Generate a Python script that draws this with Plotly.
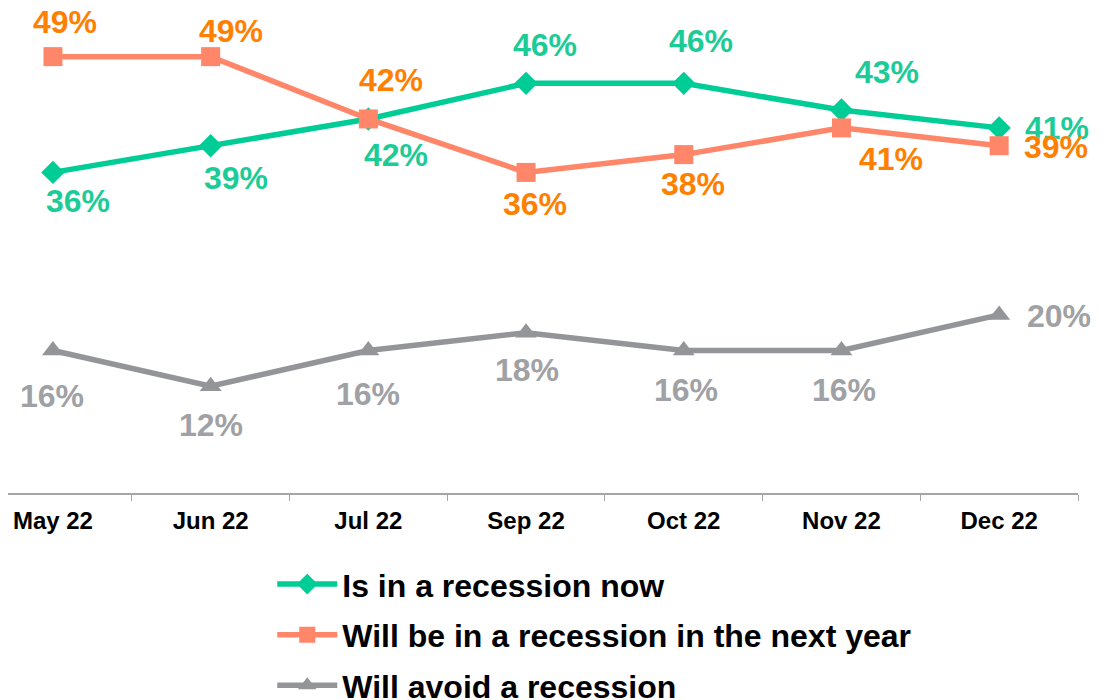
import plotly.graph_objects as go

months = ["May 22", "Jun 22", "Jul 22", "Sep 22", "Oct 22", "Nov 22", "Dec 22"]

in_recession_now = [36, 39, 42, 46, 46, 43, 41]
recession_next_year = [49, 49, 42, 36, 38, 41, 39]
avoid_recession = [16, 12, 16, 18, 16, 16, 20]

series_names = [
    "Is in a recession now",
    "Will be in a recession in the next year",
    "Will avoid a recession",
]

FONT = "Arial, Liberation Sans, sans-serif"

# line colour, marker symbol, label colour, per-point label offsets (dx, dy) in px
styles = [
    dict(line="#00CC96", symbol="diamond", size=18, text="#1DCB97",
         dx=[25, 25, 28, 19, 17, 46, 58], dy=[-29, -32, -36, 38, 42, 38, 0]),
    dict(line="#FF8669", symbol="square", size=19, text="#FF8000",
         dx=[12, 20, 23, 9, 9, 50, 57], dy=[35, 26, 39, -32, -29, -31, -1]),
    dict(line="#939598", symbol="triangle-up", size=19, text="#A0A1A4",
         dx=[-1, 0, 0, 1, 2, 3, 60], dy=[-45, -39, -43, -37, -39, -39, -1]),
]

fig = go.Figure()
annotations = []
for name, values, st in zip(series_names,
                            [in_recession_now, recession_next_year, avoid_recession],
                            styles):
    fig.add_trace(go.Scatter(
        x=months, y=values, name=name, mode="lines+markers",
        line=dict(color=st["line"], width=5.5),
        marker=dict(symbol=st["symbol"], size=st["size"], color=st["line"]),
        cliponaxis=False, legendgroup=name,
    ))
    for m, v, dx, dy in zip(months, values, st["dx"], st["dy"]):
        annotations.append(dict(
            x=m, y=v, text=f"{v}%", showarrow=False, xshift=dx, yshift=dy,
            font=dict(family=FONT, size=32, color=st["text"], weight="bold"),
        ))

# axis line continues a little past the left edge of the plot area
fig.add_shape(type="line", xref="paper", yref="paper", x0=-0.01, x1=0, y0=0, y1=0,
              line=dict(color="#A6A6A6", width=1.5))

fig.update_layout(
    width=1115, height=700,
    margin=dict(l=0, r=45, t=5, b=215, autoexpand=False),
    paper_bgcolor="white", plot_bgcolor="white",
    annotations=annotations,
    showlegend=True,
    legend=dict(
        orientation="v", xref="container", yref="container",
        x=0.237, y=0.216, xanchor="left", yanchor="top",
        font=dict(family=FONT, size=32, color="black", weight="bold"),
        itemwidth=60, tracegroupgap=6,
        bgcolor="rgba(0,0,0,0)",
    ),
    xaxis=dict(
        type="category", range=[-0.285, 6.5],
        showline=True, linecolor="#A6A6A6", linewidth=1.5,
        ticks="outside", tickson="boundaries", ticklen=6, tickcolor="#A6A6A6",
        tickfont=dict(family=FONT, size=24, color="black", weight="bold"),
        ticklabelstandoff=5,
        tickangle=0, automargin=False,
        showgrid=False, zeroline=False,
    ),
    yaxis=dict(
        range=[0, 53.9], visible=False, showgrid=False, zeroline=False,
    ),
)

fig.write_html("out.html")
